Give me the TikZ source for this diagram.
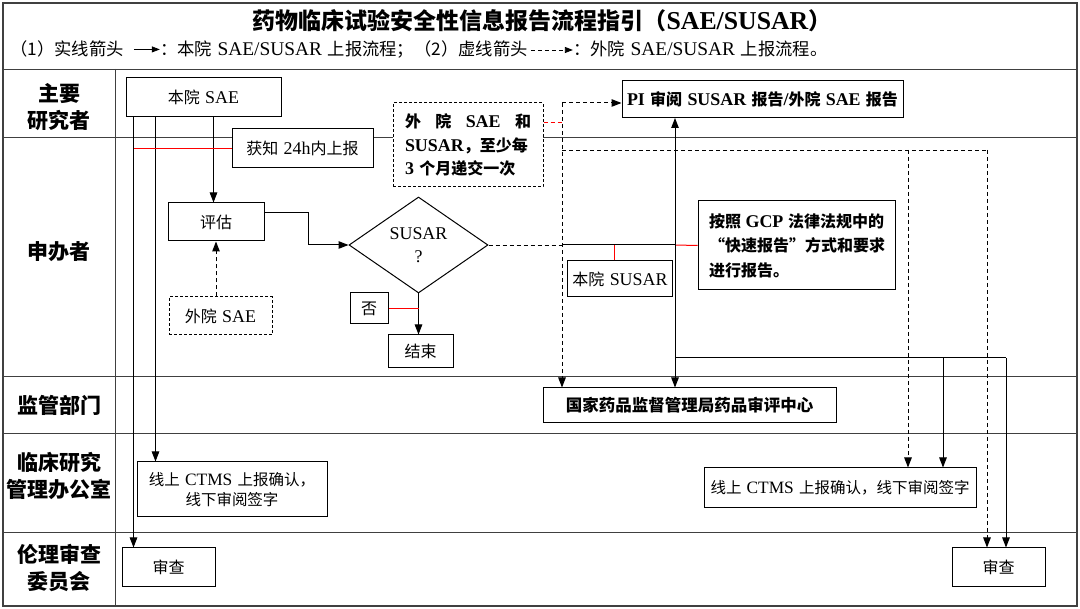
\documentclass[tikz,border=0pt]{standalone}
\usepackage{fontspec}
\setmainfont{Noto Sans CJK SC}
\newfontfamily\en{Liberation Serif}[Scale=1.12]
\usetikzlibrary{arrows.meta,shapes.geometric,calc}
\newcommand\wsp{\spaceskip=0.33em plus 0.1em\relax}
\tikzset{
  frame/.style={draw=black!75, line width=0.8pt},
  box/.style={draw=black, line width=1pt, fill=white, inner sep=0pt, align=center, font=\fontsize{16}{20}\selectfont\wsp},
  bbox/.style={box, font=\fontsize{16}{24.5}\selectfont\bfseries\wsp},
  dbox/.style={box, dash pattern=on 3pt off 2pt},
  tip/.tip={Triangle[length=10pt,width=7.5pt]},
  stip/.tip={Triangle[length=8pt,width=6pt]},
  arr/.style={draw=black, line width=1pt, -tip},
  darr/.style={arr, dash pattern=on 4pt off 3pt},
  dln/.style={draw=black, line width=0.9pt, dash pattern=on 4pt off 3pt},
  ln/.style={draw=black, line width=1pt},
  rln/.style={draw=red, line width=1pt},
  lane/.style={font=\fontsize{21}{27}\selectfont\bfseries, align=center, inner sep=0pt},
  leg/.style={anchor=base west, inner sep=0pt, font=\fontsize{17.3}{20}\selectfont\wsp},
}
\begin{document}
\begin{tikzpicture}[x=1pt,y=-1pt]
\useasboundingbox (0,0) rectangle (1080,609);
\fill[white] (0,0) rectangle (1080,609);
% frame
\draw[frame, line width=1.4pt] (3,3) rectangle (1077,606);
\draw[frame] (3,69) -- (1077,69);
\draw[frame] (115,69) -- (115,606);
\foreach \yy in {137,376,433,532} \draw[frame] (3,\yy) -- (1077,\yy);
% title and legend
\node[font=\fontsize{23}{28}\selectfont\bfseries, inner sep=0pt] (title) at (542,21) {药物临床试验安全性信息报告流程指引（{\en SAE/SUSAR}）};
\node[leg] (lg1) at (10,56) {（1）实线箭头};
\draw[ln, line width=0.8pt, -stip] ([xshift=10pt]lg1.east) -- ++(26pt,0) coordinate (la1);
\node[leg] (lg2) at (la1 |- lg1.base) {：本院 {\en SAE/SUSAR} 上报流程；（2）虚线箭头};
\draw[ln, line width=0.8pt, -stip, dash pattern=on 4pt off 3pt] ([xshift=3pt]lg2.east) -- ++(42pt,0) coordinate (la2);
\node[leg] (lg3) at (la2 |- lg1.base) {：外院 {\en SAE/SUSAR} 上报流程。};
% lane labels
\node[lane] (ln1) at (59,107) {主要\\研究者};
\node[lane] (ln2) at (59,252) {申办者};
\node[lane] (ln3) at (59,405) {监管部门};
\node[lane] (ln4) at (59,476) {临床研究\\管理办公室};
\node[lane] (ln5) at (59,568) {伦理审查\\委员会};
% nodes
\node[box, minimum width=155pt, minimum height=39pt] (bsae) at (203.5,97.5) {本院 {\en SAE}};
\node[box, minimum width=141pt, minimum height=39pt] (zhi) at (302.5,148.5) {获知 {\en 24h}内上报};
\node[dbox, minimum width=150pt, minimum height=84pt, text width=126pt, align=left, font=\fontsize{16}{23.5}\selectfont\bfseries] (wsae) at (468,145) {外\hfill 院\hfill {\en SAE}\hfill 和\\{\en SUSAR}，至少每\\{\en 3} 个月递交一次};
\node[bbox, minimum width=281pt, minimum height=37pt] (pi) at (762.5,99) {{\en PI} 审阅 {\en SUSAR} 报告{\en /}外院 {\en SAE} 报告};
\node[box, minimum width=96pt, minimum height=38pt] (pg) at (216,222) {评估};
\node[draw, diamond, line width=1pt, fill=white, minimum width=139pt, minimum height=96pt, inner sep=0pt, align=center, font=\fontsize{16}{23}\selectfont] (dia) at (418.5,245) {{\en SUSAR}\\{\en ?}};
\node[dbox, minimum width=103pt, minimum height=38pt] (wsae2) at (220.5,316) {外院 {\en SAE}};
\node[box, minimum width=38pt, minimum height=31pt] (no) at (369,308.5) {否};
\node[box, minimum width=65pt, minimum height=33pt] (jieshu) at (420.5,351.5) {结束};
\node[box, minimum width=105pt, minimum height=36pt] (bs) at (620,279) {本院 {\en SUSAR}};
\node[bbox, minimum width=197pt, minimum height=89pt, text width=175pt, align=left] (gcp) at (796.5,245.5) {按照\hfill{\en GCP}\hfill 法律法规中的\\“快速报告”方式和要求\\进行报告。};
\node[bbox, minimum width=293pt, minimum height=35pt, font=\fontsize{16.5}{20}\selectfont\bfseries] (gj) at (689.5,405.5) {国家药品监督管理局药品审评中心};
\node[box, minimum width=190pt, minimum height=55pt, font=\fontsize{15.5}{20}\selectfont\wsp] (lctms) at (232,489.5) {线上 {\en CTMS} 上报确认，\\线下审阅签字};
\node[box, minimum width=272pt, minimum height=40pt, font=\fontsize{15.5}{20}\selectfont\wsp] (rctms) at (840,488) {线上 {\en CTMS} 上报确认，线下审阅签字};
\node[box, minimum width=93pt, minimum height=39pt] (lshen) at (168.5,567.5) {审查};
\node[box, minimum width=93pt, minimum height=39pt] (rshen) at (998.5,567.5) {审查};
% helper coordinates
\coordinate (c1) at ([xshift=8pt]bsae.south west);
\coordinate (c2) at ([xshift=30pt]bsae.south west);
\coordinate (c3) at ([xshift=88pt]bsae.south west);
\coordinate (vx) at (562,0);
\coordinate (vp) at (675,0);
\coordinate (piw) at ([yshift=-4pt]pi.west);
\coordinate (t1) at (piw -| vx);
\coordinate (we) at ([yshift=22pt]wsae.east);
\coordinate (bsr) at ([xshift=-6pt]bs.north);
\coordinate (h1) at (562,150);
\coordinate (d1) at (908,150);
\coordinate (h2) at (987,150);
\coordinate (s0) at (675,358);
\coordinate (s1) at (943,358);
\coordinate (s2) at (1006,358);
% connectors: own-hospital
\draw[arr] (c1) -- (c1 |- lshen.north);
\draw[arr] (c2) -- (c2 |- lctms.north);
\draw[arr] (c3) -- (c3 |- pg.north);
\draw[rln] (c1 |- zhi.west) -- (zhi.west);
\draw[arr] ([yshift=9pt]pg.east) -- ++(44pt,0) |- (dia.west);
\draw[darr] (pg.south |- wsae2.north) -- (pg.south);
\draw[arr] (dia.south) -- (dia.south |- jieshu.north);
\draw[rln] (no.east) -- (no.east -| dia.south);
\draw[dln] (dia.east) -- (dia.east -| vx);
\draw[ln] (dia.east -| vx) -- (dia.east -| vp);
\draw[rln] (dia.east -| vp) -- (gcp.west);
\draw[rln] (bsr) -- (bsr |- dia.east);
\draw[ln, tip-tip] (vp |- pi.south) -- (vp |- gj.north);
\draw[ln] (s0) -- (s2);
\draw[arr] (s1) -- (s1 |- rctms.north);
\draw[arr] (s2) -- (s2 |- rshen.north);
% connectors: other hospitals
\draw[draw=red, line width=1pt, dash pattern=on 4pt off 3pt] (we) -- (we -| vx);
\draw[darr] (t1) -- (piw);
\draw[darr] (t1) -- (vx |- gj.north);
\draw[dln] (h1) -- (h2);
\draw[darr] (d1) -- (d1 |- rctms.north);
\draw[darr] (h2) -- (h2 |- rshen.north);
\end{tikzpicture}
\end{document}
